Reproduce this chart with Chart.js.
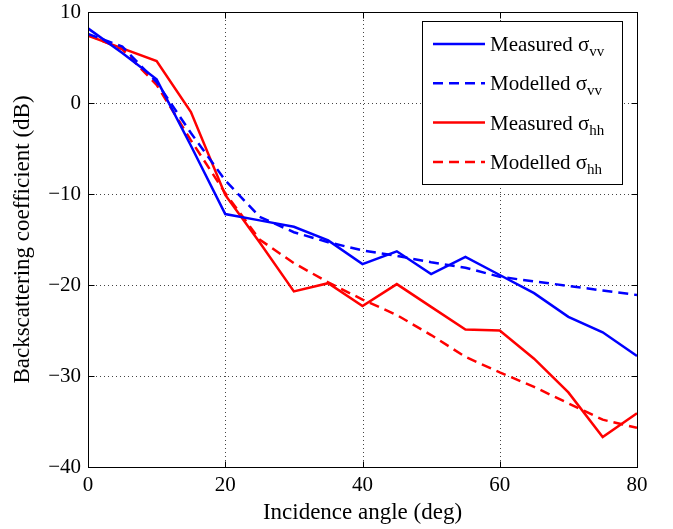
<!DOCTYPE html>
<html>
<head>
<meta charset="utf-8">
<script src="https://cdn.jsdelivr.net/npm/chart.js@4/dist/chart.umd.min.js"></script>
<style>
  html, body { margin: 0; padding: 0; background: #fff; }
  #wrap { width: 673px; height: 529px; position: relative; }
</style>
</head>
<body>
<div id="wrap"><canvas id="chart"></canvas></div>
<script>
// incidence angles (deg)
const angles = [0, 5, 10, 15, 20, 25, 30, 35, 40, 45, 50, 55, 60, 65, 70, 75, 80];
// backscattering coefficient (dB)
const measuredVV = [8.2, 5.5, 2.6, -4.7, -12.2, -12.9, -13.6, -15.1, -17.7, -16.3, -18.8, -16.9, -18.9, -20.9, -23.5, -25.2, -27.8];
const modelledVV = [7.6, 6.2, 2.3, -3.3, -8.5, -12.5, -14.2, -15.3, -16.2, -16.8, -17.5, -18.1, -19.1, -19.6, -20.1, -20.6, -21.1];
const measuredHH = [7.4, 6.0, 4.6, -1.0, -10.1, -15.3, -20.7, -19.8, -22.3, -19.9, -22.4, -24.9, -25.0, -28.1, -31.8, -36.7, -34.1];
const modelledHH = [7.5, 5.9, 2.0, -4.1, -9.9, -15.0, -17.6, -19.7, -21.6, -23.3, -25.5, -27.9, -29.6, -31.2, -33.0, -34.8, -35.7];
const xTicks = [0, 20, 40, 60, 80];
const yTicks = [10, 0, -10, -20, -30, -40];

const legendItems = [
  { main: 'Measured \u03c3', sub: 'vv', color: '#0000ff', dash: [] },
  { main: 'Modelled \u03c3', sub: 'vv', color: '#0000ff', dash: [10, 6] },
  { main: 'Measured \u03c3', sub: 'hh', color: '#ff0000', dash: [] },
  { main: 'Modelled \u03c3', sub: 'hh', color: '#ff0000', dash: [10, 6] }
];

const serif = "'Liberation Serif', 'DejaVu Serif', serif";

function pts(ys) {
  return angles.map((a, i) => ({ x: a, y: ys[i] }));
}

// matlab style frame: dotted grid, box, inward ticks, legend
const framePlugin = {
  id: 'frame',
  beforeDatasetsDraw(chart) {
    const { ctx, chartArea: a, scales } = chart;
    ctx.save();
    ctx.strokeStyle = '#444';
    ctx.lineWidth = 1;
    ctx.setLineDash([1, 3]);
    xTicks.slice(1, -1).forEach(v => {
      const x = Math.round(scales.x.getPixelForValue(v)) + 0.5;
      ctx.beginPath(); ctx.moveTo(x, a.top); ctx.lineTo(x, a.bottom); ctx.stroke();
    });
    yTicks.slice(1, -1).forEach(v => {
      const y = Math.round(scales.y.getPixelForValue(v)) + 0.5;
      ctx.beginPath(); ctx.moveTo(a.left, y); ctx.lineTo(a.right, y); ctx.stroke();
    });
    ctx.restore();
  },
  afterDraw(chart) {
    const { ctx, chartArea: a, scales } = chart;
    ctx.save();
    ctx.strokeStyle = '#000';
    ctx.lineWidth = 1;
    ctx.setLineDash([]);
    const l = Math.round(a.left) + 0.5, r = Math.round(a.right) + 0.5;
    const t = Math.round(a.top) + 0.5, b = Math.round(a.bottom) + 0.5;
    ctx.strokeRect(l, t, r - l, b - t);
    const tl = 6;
    xTicks.forEach(v => {
      const x = Math.round(scales.x.getPixelForValue(v)) + 0.5;
      ctx.beginPath();
      ctx.moveTo(x, b); ctx.lineTo(x, b - tl);
      ctx.moveTo(x, t); ctx.lineTo(x, t + tl);
      ctx.stroke();
    });
    yTicks.forEach(v => {
      const y = Math.round(scales.y.getPixelForValue(v)) + 0.5;
      ctx.beginPath();
      ctx.moveTo(l, y); ctx.lineTo(l + tl, y);
      ctx.moveTo(r, y); ctx.lineTo(r - tl, y);
      ctx.stroke();
    });

    // legend box
    const bx = 422.5, by = 21.5, bw = 200, bh = 163;
    ctx.fillStyle = '#fff';
    ctx.fillRect(bx, by, bw, bh);
    ctx.strokeRect(bx, by, bw, bh);
    legendItems.forEach((it, i) => {
      const y = 44 + i * 39.3;
      ctx.strokeStyle = it.color;
      ctx.lineWidth = 2.5;
      ctx.setLineDash(it.dash);
      ctx.beginPath(); ctx.moveTo(433, y); ctx.lineTo(485, y); ctx.stroke();
      ctx.setLineDash([]);
      ctx.fillStyle = '#000';
      ctx.textBaseline = 'alphabetic';
      ctx.textAlign = 'left';
      ctx.font = '21px ' + serif;
      ctx.fillText(it.main, 490, y + 7);
      const w = ctx.measureText(it.main).width;
      ctx.font = '15px ' + serif;
      ctx.fillText(it.sub, 490 + w, y + 12);
    });
    ctx.restore();
  }
};

const line = (label, ys, color, dash) => ({
  label: label,
  data: pts(ys),
  borderColor: color,
  borderWidth: 2.5,
  borderDash: dash,
  pointRadius: 0,
  tension: 0,
  fill: false
});

new Chart(document.getElementById('chart'), {
  type: 'line',
  data: {
    datasets: [
      line('Measured vv', measuredVV, '#0000ff', []),
      line('Modelled vv', modelledVV, '#0000ff', [10, 6]),
      line('Measured hh', measuredHH, '#ff0000', []),
      line('Modelled hh', modelledHH, '#ff0000', [10, 6])
    ]
  },
  options: {
    responsive: true,
    maintainAspectRatio: false,
    animation: false,
    layout: { padding: { left: 0, right: 36, top: 12, bottom: 0 } },
    plugins: {
      legend: { display: false },
      tooltip: { enabled: false }
    },
    scales: {
      x: {
        type: 'linear',
        min: 0,
        max: 80,
        afterBuildTicks: s => { s.ticks = xTicks.map(v => ({ value: v })); },
        afterFit: s => { s.height = 62; s.paddingLeft = 0; s.paddingRight = 0; },
        grid: { display: false, drawTicks: false },
        border: { display: false },
        ticks: { color: '#000', padding: 6, font: { family: serif, size: 21 } },
        title: {
          display: true,
          text: 'Incidence angle (deg)',
          color: '#000',
          padding: { top: 0, bottom: 2 },
          font: { family: serif, size: 23 }
        }
      },
      y: {
        min: -40,
        max: 10,
        afterBuildTicks: s => { s.ticks = yTicks.map(v => ({ value: v })); },
        afterFit: s => { s.width = 88; s.paddingTop = 0; s.paddingBottom = 0; },
        grid: { display: false, drawTicks: false },
        border: { display: false },
        ticks: {
          color: '#000',
          padding: 7,
          font: { family: serif, size: 21 },
          callback: v => (v < 0 ? '\u2212' + Math.abs(v) : String(v))
        },
        title: {
          display: true,
          text: 'Backscattering coefficient (dB)',
          color: '#000',
          padding: { top: 9, bottom: 0 },
          font: { family: serif, size: 23 }
        }
      }
    }
  },
  plugins: [framePlugin]
});
</script>
</body>
</html>
